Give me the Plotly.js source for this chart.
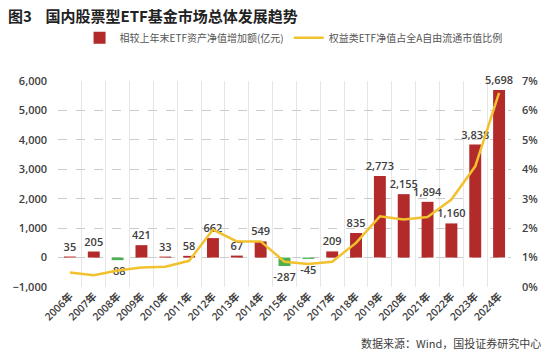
<!DOCTYPE html>
<html><head><meta charset="utf-8">
<script src="https://cdn.plot.ly/plotly-3.0.1.min.js"></script>
<style>html,body{margin:0;padding:0;background:#fff}#c{width:550px;height:355px}</style>
</head><body><div id="c"></div>
<script>
const years = ['2006年','2007年','2008年','2009年','2010年','2011年','2012年','2013年','2014年','2015年','2016年','2017年','2018年','2019年','2020年','2021年','2022年','2023年','2024年'];
const netIncrease = [35,205,-88,421,33,58,662,67,549,-287,-45,209,835,2773,2155,1894,1160,3838,5698];
const equityShare = [0.49,0.40,0.56,0.66,0.69,0.89,1.95,1.55,1.55,0.86,0.78,0.86,1.5,2.4,2.29,2.38,2.97,4.1,6.6];
const barName = '相较上年末ETF资产净值增加额(亿元)';
const lineName = '权益类ETF净值占全A自由流通市值比例';

const font = '"Open Sans","Noto Sans CJK SC",sans-serif';
const traces = [
  {type:'bar', x:years, y:netIncrease, name:barName,
   marker:{color:netIncrease.map(v=>v<0?'#4CAF50':'#B22A2A')},
   width:0.5, texttemplate:'%{y:,}', textposition:'outside', cliponaxis:false, constraintext:'none',
   textfont:{size:11,color:'#404040',family:font, weight:600}, hoverinfo:'skip'},
  {type:'scatter', mode:'lines', x:years, y:equityShare, name:lineName, yaxis:'y2',
   line:{color:'#F2C12E', width:2.5}, hoverinfo:'skip'}
];
const layout = {
  width:550, height:355, margin:{l:58,r:39,t:81,b:68},
  paper_bgcolor:'#fff', plot_bgcolor:'#fff',
  font:{family:font, size:11, color:'#404040'},
  title:{text:'<b>图3    国内股票型ETF基金市场总体发展趋势</b>', x:8/550, xanchor:'left', y:1-17/355, yanchor:'middle',
         font:{family:'"Noto Sans CJK SC",sans-serif', size:15, color:'#222'}},
  showlegend:true,
  legend:{orientation:'h', x:0.52, xanchor:'center', y:1.21, yanchor:'middle',
          font:{family:'"Noto Sans CJK SC",serif', size:10, color:'#555'}, traceorder:'normal'},
  xaxis:{type:'category', tickson:'boundaries', showgrid:true, gridcolor:'#e6e6e6', gridwidth:1,
         tickangle:-45, tickfont:{size:10.5,color:'#404040', weight:600}, ticks:'', showline:false, zeroline:false},
  yaxis:{range:[-1000,6000], dtick:1000, tickformat:',', showgrid:true, gridcolor:'#cccccc', griddash:'dash',
         zeroline:false, ticks:'', ticklabelstandoff:10, tickfont:{size:11,color:'#404040', weight:600}},
  yaxis2:{overlaying:'y', side:'right', range:[0,7], dtick:1, ticksuffix:'%', showgrid:false, zeroline:false,
          ticks:'', ticklabelstandoff:10, tickfont:{size:11,color:'#404040', weight:600}},
  bargap:0.5,
  annotations:[{text:'数据来源：Wind，国投证券研究中心', xref:'paper', yref:'paper', x:1.07, xanchor:'right',
     y:-(343-287)/206, yanchor:'middle', showarrow:false, font:{size:11,color:'#404040',family:'"Noto Sans CJK SC",sans-serif'}}]
};
Plotly.newPlot('c', traces, layout, {staticPlot:true, displayModeBar:false});
</script></body></html>
